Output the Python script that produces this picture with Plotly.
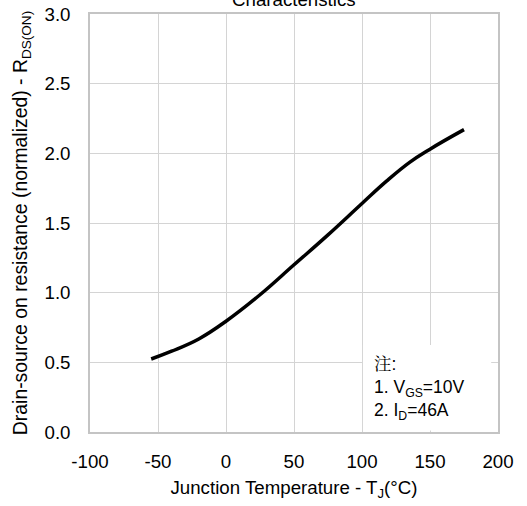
import plotly.graph_objects as go

temperature = [-55, -40, -20, 0, 25, 50, 75, 100, 118, 135, 150, 175]
rds_norm = [0.524, 0.58, 0.668, 0.795, 0.985, 1.2, 1.415, 1.64, 1.80, 1.935, 2.03, 2.17]

x_ticks = [-100, -50, 0, 50, 100, 150, 200]
y_ticks = [0.0, 0.5, 1.0, 1.5, 2.0, 2.5, 3.0]

FONT = "Liberation Sans, Arial, sans-serif"
GRID = "#d4d4d4"
FS = 18.7

fig = go.Figure()
fig.add_trace(go.Scatter(
    x=temperature, y=rds_norm, mode="lines",
    line=dict(color="black", width=3.5, shape="spline", smoothing=1.2),
    showlegend=False, hoverinfo="skip",
))

fig.update_layout(
    width=527, height=506,
    margin=dict(l=90, r=29, t=14, b=74),
    paper_bgcolor="white", plot_bgcolor="white",
    font=dict(family=FONT, size=FS, color="black"),
    xaxis=dict(
        range=[-100, 200], tickvals=x_ticks, ticktext=[str(v) for v in x_ticks],
        showgrid=True, gridcolor=GRID, gridwidth=1,
        showline=True, linecolor="#c4c4c4", linewidth=1.5, mirror=True,
        zeroline=False, ticks="", ticklen=0, ticklabelstandoff=12,
        tickfont=dict(size=FS), automargin=False,
        title=dict(text="Junction Temperature - T<sub>J</sub>(°C)", font=dict(size=FS), standoff=10),
    ),
    yaxis=dict(
        range=[0, 3.0], tickvals=y_ticks, ticktext=[f"{v:.1f}" for v in y_ticks],
        showgrid=True, gridcolor=GRID, gridwidth=1,
        showline=True, linecolor="#c4c4c4", linewidth=1.5, mirror=True,
        zeroline=False, ticks="", ticklen=0, ticklabelstandoff=14,
        tickfont=dict(size=FS), automargin=False,
        title=dict(text="Drain-source on resistance (normalized) - R<sub>DS(ON)</sub>",
                   font=dict(size=19.4), standoff=12),
    ),
)

# Title (partially cropped at the top, as in the reference)
fig.add_annotation(
    text="Characteristics", xref="paper", yref="paper", x=0.5, y=1.0,
    xanchor="center", yanchor="bottom", yshift=2, showarrow=False,
    font=dict(size=FS, family=FONT),
)

# Note box
fig.add_shape(type="rect", xref="x", yref="y", x0=100.7, x1=195, y0=0.01, y1=0.625,
              fillcolor="white", line=dict(width=0), layer="above")
notes = ["注:", "1. V<sub>GS</sub>=10V", "2. I<sub>D</sub>=46A"]
note_y = [0.485, 0.31, 0.15]
for txt, yy in zip(notes, note_y):
    fig.add_annotation(text=txt, xref="x", yref="y", x=107, y=yy, xanchor="left",
                       yanchor="middle", showarrow=False,
                       font=dict(size=17.5, family="Liberation Sans, Noto Serif CJK SC, Noto Sans CJK SC, sans-serif"))

fig.write_html("out.html")
